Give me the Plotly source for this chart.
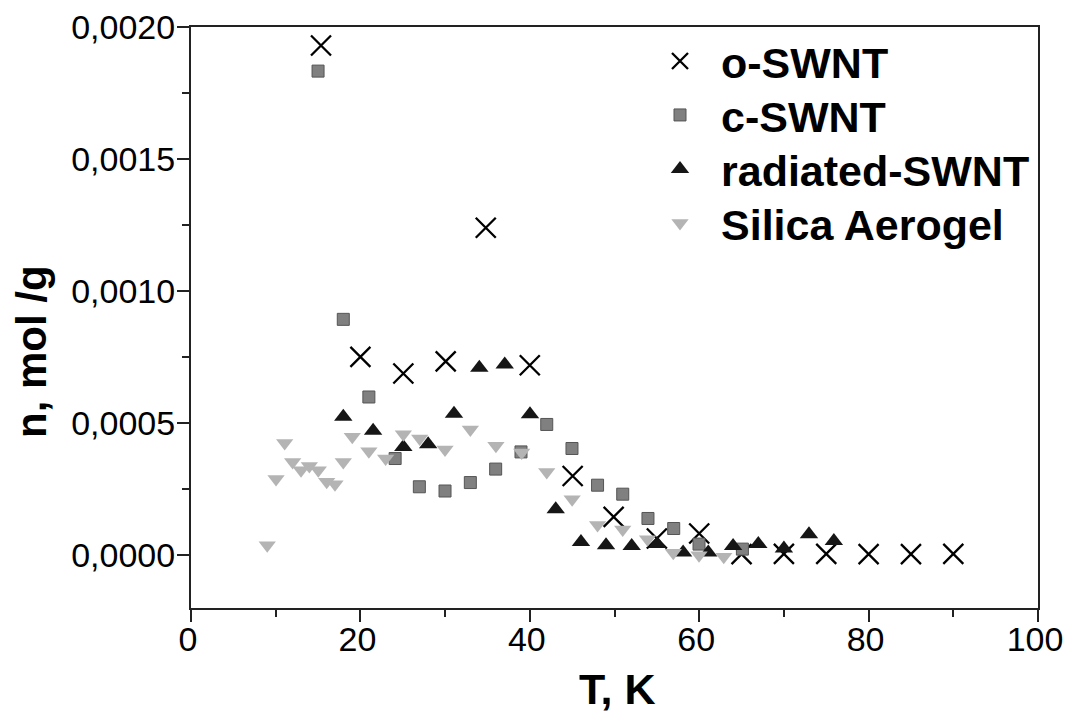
import plotly.graph_objects as go

# o-SWNT
o_T = [15.35, 20.0, 25.07, 30.07, 34.8, 40.0, 45.06, 49.9, 55.0, 60.0, 65.0, 70.0, 75.0, 80.0, 85.0, 90.0]
o_n = [0.00193, 0.000751, 0.000688, 0.000734, 0.00124, 0.000719, 0.0003, 0.000145, 0.000063, 0.000082,
       0.000004, 0.000005, 0.000005, 0.000004, 0.000004, 0.000005]

# c-SWNT
c_T = [15.0, 17.98, 21.0, 24.1, 26.96, 29.99, 32.98, 35.97, 38.96, 42.0, 44.98, 48.0, 50.97, 53.95, 56.99, 59.98, 65.1]
c_n = [0.001833, 0.000893, 0.000599, 0.000366, 0.000259, 0.000243, 0.000275, 0.000326, 0.000391, 0.000495,
       0.000404, 0.000265, 0.000231, 0.000139, 0.000101, 0.000042, 0.000023]

# radiated-SWNT
r_T = [17.98, 21.5, 25.07, 28.0, 31.05, 34.04, 37.04, 40.02, 43.06, 46.04, 49.0, 52.03, 55.05, 58.1, 61.07,
       64.0, 66.98, 70.0, 72.96, 75.9]
r_n = [0.000524, 0.000471, 0.00041, 0.00042, 0.000536, 0.00071, 0.000722, 0.000534, 0.000174, 0.00005,
       0.000038, 0.000035, 0.000042, 0.00001, 0.00001, 0.000035, 0.000042, 0.000025, 0.000079, 0.000054]

# Silica Aerogel
s_T = [9.0, 10.04, 11.06, 12.0, 12.99, 13.97, 15.03, 16.02, 17.0, 17.98, 19.04, 21.0, 22.98, 25.07, 27.0,
       29.99, 32.98, 36.0, 39.04, 42.0, 45.0, 48.0, 50.97, 53.9, 56.94, 59.98, 62.9]
s_n = [0.000038, 0.000288, 0.000425, 0.000353, 0.000322, 0.000338, 0.000322, 0.000278, 0.000269, 0.000353,
       0.000448, 0.000394, 0.000366, 0.000458, 0.000442, 0.0004, 0.000476, 0.000414, 0.000389, 0.000315,
       0.000212, 0.000114, 0.000097, 0.00006, 0.000009, 0.0, -0.000006]

FONT = "Liberation Sans, Arial, sans-serif"

# page has an 8 px body margin; figure sized so the page fits the 1072x724 window
W, H = 1056, 708
OFF = 8
PL, PR, PT, PB = 191, 1038, 27, 608  # target plot area in window pixels
pw = PR - PL
ph = PB - PT


def px_x(px):
    return (px - PL) / pw


def px_y(py):
    return (PB - py) / ph


fig = go.Figure()
fig.add_trace(go.Scatter(x=o_T, y=o_n, mode="markers", name="o-SWNT", legend="legend",
                         marker=dict(symbol="x-thin-open", size=20, color="#000000",
                                     line=dict(width=2.3, color="#000000"))))
fig.add_trace(go.Scatter(x=c_T, y=c_n, mode="markers", name="c-SWNT", legend="legend2",
                         marker=dict(symbol="square", size=12, color="#808080",
                                     line=dict(width=1, color="#555555"))))
fig.add_trace(go.Scatter(x=r_T, y=r_n, mode="markers", name="radiated-SWNT", legend="legend3",
                         marker=dict(symbol="triangle-up", size=16, color="#161616",
                                     line=dict(width=0))))
fig.add_trace(go.Scatter(x=s_T, y=s_n, mode="markers", name="Silica Aerogel", legend="legend4",
                         marker=dict(symbol="triangle-down", size=15, color="#b4b4b4",
                                     line=dict(width=0))))

axis_common = dict(showgrid=False, zeroline=False, showline=True, mirror=True,
                   linewidth=2, linecolor="#222222", ticks="outside", ticklen=12,
                   tickwidth=2, tickcolor="#222222", ticklabeloverflow="allow",
                   tickfont=dict(family=FONT, size=34, color="#000000"))

fig.update_xaxes(range=[0, 100], dtick=20, tick0=0, ticklabelstandoff=-12, ticklabelshift=-3,
                 minor=dict(dtick=10, ticks="outside", ticklen=7, tickwidth=2, tickcolor="#222222"),
                 **axis_common)
fig.update_yaxes(range=[-0.0002, 0.002], dtick=0.0005, tick0=0, tickformat=".4f", ticklabelstandoff=-5,
                 minor=dict(dtick=0.00025, ticks="outside", ticklen=7, tickwidth=2, tickcolor="#222222"),
                 **axis_common)

legend_rows = [61, 115, 169, 223]


def leg(row_y):
    return dict(x=px_x(639), xanchor="left", y=px_y(row_y), yanchor="middle",
                font=dict(family=FONT, size=43, color="#000000", weight="bold"),
                bgcolor="rgba(0,0,0,0)", borderwidth=0, itemsizing="trace",
                itemwidth=72)


fig.update_layout(
    width=W, height=H,
    margin=dict(l=PL - OFF, r=W + OFF - PR, t=PT - OFF, b=H + OFF - PB, autoexpand=False),
    paper_bgcolor="white", plot_bgcolor="white",
    separators=", ",
    font=dict(family=FONT, color="#000000"),
    showlegend=True,
    legend=leg(legend_rows[0]),
    legend2=leg(legend_rows[1]),
    legend3=leg(legend_rows[2]),
    legend4=leg(legend_rows[3]),
    annotations=[
        dict(text="T, K", xref="paper", yref="paper", x=px_x(617), y=px_y(689),
             xanchor="center", yanchor="middle", showarrow=False,
             font=dict(family=FONT, size=43, color="#000000", weight="bold")),
        dict(text="n, mol /g", xref="paper", yref="paper", x=px_x(31), y=px_y(352),
             xanchor="center", yanchor="middle", showarrow=False, textangle=-90,
             font=dict(family=FONT, size=42, color="#000000", weight="bold")),
    ],
)

fig.write_html("out.html")
